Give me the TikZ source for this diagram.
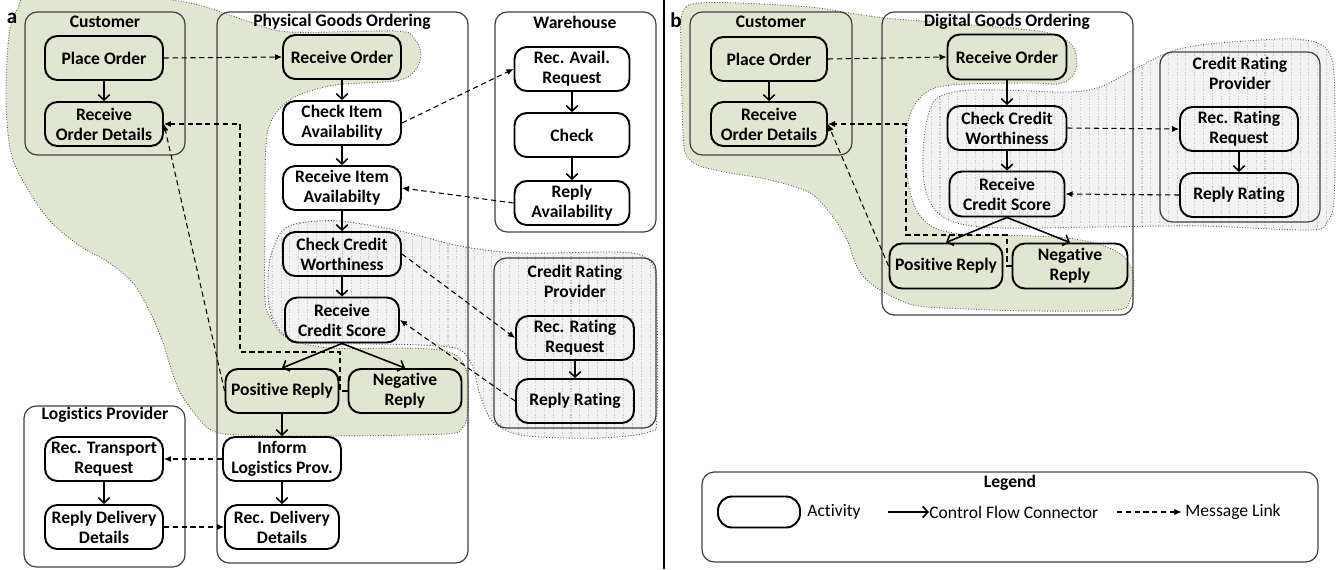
\documentclass[tikz,border=0pt]{standalone}
\usepackage{fontspec}
\setmainfont{Carlito}[Ligatures=NoCommon]
\usetikzlibrary{arrows.meta,patterns.meta}
\definecolor{greenfill}{RGB}{224,230,209}
\definecolor{greyfill}{RGB}{242,242,242}
\definecolor{greyline}{RGB}{200,200,200}
\begin{document}
\begin{tikzpicture}[x=0.02cm,y=-0.02cm,
 act/.style={draw, line width=1.1pt, rounded corners=7pt, minimum width=2.36cm, minimum height=0.88cm, align=center, font=\bfseries\fontsize{10}{11.5}\selectfont, inner sep=1pt},
 nw/.style={minimum width=#1*0.02cm},
 nh/.style={minimum height=#1*0.02cm},
 cont/.style={draw=black!75, line width=0.7pt, rounded corners=7pt},
 ctitle/.style={font=\bfseries\fontsize{10}{11.5}\selectfont, inner sep=0pt},
 ctrl/.style={line width=0.9pt, -{Straight Barb[length=3pt,width=6.5pt]}},
 msg/.style={line width=0.6pt, dash pattern=on 3pt off 2pt, -{Latex[length=4pt,width=3.5pt]}},
 greenreg/.style={fill=greenfill, draw=black!65, densely dotted, line width=0.5pt},
 greyreg/.style={preaction={fill=greyfill}, pattern={Lines[angle=90,distance=5pt,line width=0.6pt]}, pattern color=greyline, draw=black!65, densely dotted, line width=0.5pt},
 lbl/.style={font=\bfseries\fontsize{12}{14}\selectfont, inner sep=0pt},
 legtxt/.style={font=\fontsize{10}{12}\selectfont, inner sep=0pt, anchor=west}
]
\useasboundingbox (0,0) rectangle (1340,569);

% ---------- regions panel a ----------
\path[greyreg] plot[smooth cycle, tension=0.55] coordinates {
 (282,231) (300,223) (340,221) (400,231) (460,246) (520,253) (615,252) (643,256) (655,270) (657,300)
 (657,415) (649,432) (600,438) (540,437) (513,433) (492,421) (480,395) (472,365) (458,349) (420,345)
 (370,344) (305,343) (283,334) (270,310) (268,280) (271,255)};
\path[greenreg] plot[smooth cycle, tension=0.55] coordinates {
 (30,-3) (110,-6) (190,3) (250,22) (290,32) (395,31) (414,38) (421,55) (414,72) (395,81) (335,85)
 (295,97) (274,116) (266,145) (265,230) (265,300) (271,318) (287,338) (330,348) (400,348) (440,350)
 (460,358) (468,378) (468,412) (462,428) (445,434) (330,436) (240,435) (213,431) (198,418) (178,388)
 (162,340) (148,308) (132,282) (108,262) (80,246) (50,221) (27,188) (11,153) (6,100) (9,35) (18,8)};

% ---------- regions panel b ----------
\path[greyreg] plot[smooth cycle, tension=0.55] coordinates {
 (936,99) (960,91) (1000,90) (1067,92) (1100,87) (1133,70) (1167,53) (1200,45) (1260,40) (1295,39)
 (1322,45) (1333,65) (1335,120) (1334,200) (1327,222) (1310,230) (1200,226) (1100,227) (1000,228)
 (957,223) (936,211) (925,188) (923,153) (927,120)};
\path[greenreg] plot[smooth cycle, tension=0.55] coordinates {
 (681,20) (686,7) (700,3) (740,3) (810,7) (850,13) (885,18) (960,24) (1030,30) (1055,35) (1072,45)
 (1077,62) (1072,77) (1058,84) (1033,83) (967,84) (935,88) (918,100) (908,122) (906,153) (909,187)
 (918,213) (935,228) (967,235) (1000,235) (1067,238) (1107,247) (1127,260) (1134,280) (1130,300)
 (1117,310) (1033,311) (967,309) (918,306) (893,297) (870,283) (857,267) (847,240) (833,217)
 (810,193) (770,180) (730,173) (703,167) (690,160) (684,147) (682,100) (681,50)};

% ---------- containers ----------
\draw[cont] (25,12) rectangle (185,155);
\draw[cont] (217,12) rectangle (468,563);
\draw[cont] (495,12) rectangle (656,232);
\draw[cont] (494,258) rectangle (656,428);
\draw[cont] (24,406) rectangle (185,567);
\draw[cont] (690,12) rectangle (852,155);
\draw[cont] (882,12) rectangle (1133,315);
\draw[cont] (1160,52) rectangle (1320,222);
\draw[cont] (702,472) rectangle (1318,562);

\node[ctitle] (tCustA) at (105,22) {Customer};
\node[ctitle] (tPhys) at (342,22) {Physical Goods Ordering};
\node[ctitle] (tWare) at (575,22) {Warehouse};
\node[ctitle, align=center] (tCredA) at (575,281) {Credit Rating\\Provider};
\node[ctitle] (tLog) at (105,415) {Logistics Provider};
\node[ctitle] (tCustB) at (771,22) {Customer};
\node[ctitle] (tDig) at (1007,22) {Digital Goods Ordering};
\node[ctitle, align=center] (tCredB) at (1240,73) {Credit Rating\\Provider};
\node[ctitle] (tLeg) at (1010,483) {Legend};

% divider
\draw[line width=1.4pt] (664,0) -- (664,569);
\node[lbl] (la) at (12,18) {a};
\node[lbl] (lb) at (676,20) {b};

% ---------- nodes panel a ----------
\node[act] (poA) at (104,58) {Place Order};
\node[act] (rodA) at (104,124) {Receive\\Order Details};
\node[act] (roA) at (342,57) {Receive Order};
\node[act] (ciaA) at (342,123) {Check Item\\Availability};
\node[act] (riaA) at (342,188) {Receive Item\\Availabilty};
\node[act] (ccwA) at (342,254) {Check Credit\\Worthiness};
\node[act, nw=114, nh=45] (rcsA) at (342,320) {Receive\\Credit Score};
\node[act, nw=113] (prA) at (282,391) {Positive Reply};
\node[act, nw=113] (nrA) at (405,391) {Negative\\Reply};
\node[act] (ilpA) at (282,459) {Inform\\Logistics Prov.};
\node[act, nw=114] (rddA) at (282,527) {Rec. Delivery\\Details};
\node[act] (rtrA) at (104,459) {Rec. Transport\\Request};
\node[act] (rdlA) at (104,527) {Reply Delivery\\Details};
\node[act, nw=115] (raA) at (572,69) {Rec. Avail.\\Request};
\node[act, nw=115] (chA) at (572,135) {Check};
\node[act, nw=115] (rpaA) at (572,203) {Reply\\Availability};
\node[act] (rrrA) at (575,338) {Rec. Rating\\Request};
\node[act] (rrA) at (575,401) {Reply Rating};

% ---------- nodes panel b ----------
\node[act, nw=116] (poB) at (769,59) {Place Order};
\node[act, nw=116] (rodB) at (769,124) {Receive\\Order Details};
\node[act, nw=119, nh=45] (roB) at (1007,57) {Receive Order};
\node[act, nw=119] (ccwB) at (1007,128) {Check Credit\\Worthiness};
\node[act, nw=115, nh=45] (rcsB) at (1007,194) {Receive\\Credit Score};
\node[act, nw=113, nh=45] (prB) at (946,266) {Positive Reply};
\node[act, nw=115, nh=45] (nrB) at (1070,266) {Negative\\Reply};
\node[act] (rrrB) at (1239,129) {Rec. Rating\\Request};
\node[act] (rrB) at (1239,195) {Reply Rating};

% ---------- legend ----------
\node[act, nw=82, nh=31, rounded corners=8pt] (legAct) at (759,512) {};
\node[legtxt] (legActT) at (807,512) {Activity};
\coordinate (c1) at (888,512);
\node[legtxt] (legCtrlT) at (929,512) {Control Flow Connector};
\coordinate (m1) at (1117,512);
\node[legtxt] (legMsgT) at (1185,512) {Message Link};
\draw[ctrl] (c1) -- (legCtrlT.west);
\draw[msg] (m1) -- ([xshift=-2pt]legMsgT.west);

% ---------- control flow a ----------
\draw[ctrl] (poA) -- (rodA);
\draw[ctrl] (roA) -- (ciaA);
\draw[ctrl] (ciaA) -- (riaA);
\draw[ctrl] (riaA) -- (ccwA);
\draw[ctrl] (ccwA) -- (rcsA);
\draw[ctrl] (rcsA.south) -- (prA.north);
\draw[ctrl] (rcsA.south) -- (nrA.north);
\draw[ctrl] (prA) -- (ilpA);
\draw[ctrl] (ilpA) -- (rddA);
\draw[ctrl] (rtrA) -- (rdlA);
\draw[ctrl] (raA) -- (chA);
\draw[ctrl] (chA) -- (rpaA);
\draw[ctrl] (rrrA) -- (rrA);

% ---------- message links a ----------
\draw[msg] (poA.east) -- (roA.west);
\draw[msg] (ciaA.east) -- (raA.west);
\draw[msg] (rpaA.west) -- (riaA.east);
\draw[msg] (ccwA.east) -- (rrrA.west);
\draw[msg] (rrA.west) -- (rcsA.east);
\draw[msg] (ilpA.west) -- (rtrA.east);
\draw[msg] (rdlA.east) -- (rddA.west);
\draw[msg] (prA.west) -- (rodA.east);
\draw[msg] (nrA.west) -- (340,391) |- (240,352) |- (rodA.east);

% ---------- control flow b ----------
\draw[ctrl] (poB) -- (rodB);
\draw[ctrl] (roB) -- (ccwB);
\draw[ctrl] (ccwB) -- (rcsB);
\draw[ctrl] (rcsB.south) -- (prB.north);
\draw[ctrl] (rcsB.south) -- (nrB.north);
\draw[ctrl] (rrrB) -- (rrB);

% ---------- message links b ----------
\draw[msg] (poB.east) -- (roB.west);
\draw[msg] (ccwB.east) -- (rrrB.west);
\draw[msg] (rrB.west) -- (rcsB.east);
\draw[msg] (prB.west) -- (rodB.east);
\draw[msg] (nrB.west) -- (1007,266) |- (906,235) |- (rodB.east);
\end{tikzpicture}
\end{document}
